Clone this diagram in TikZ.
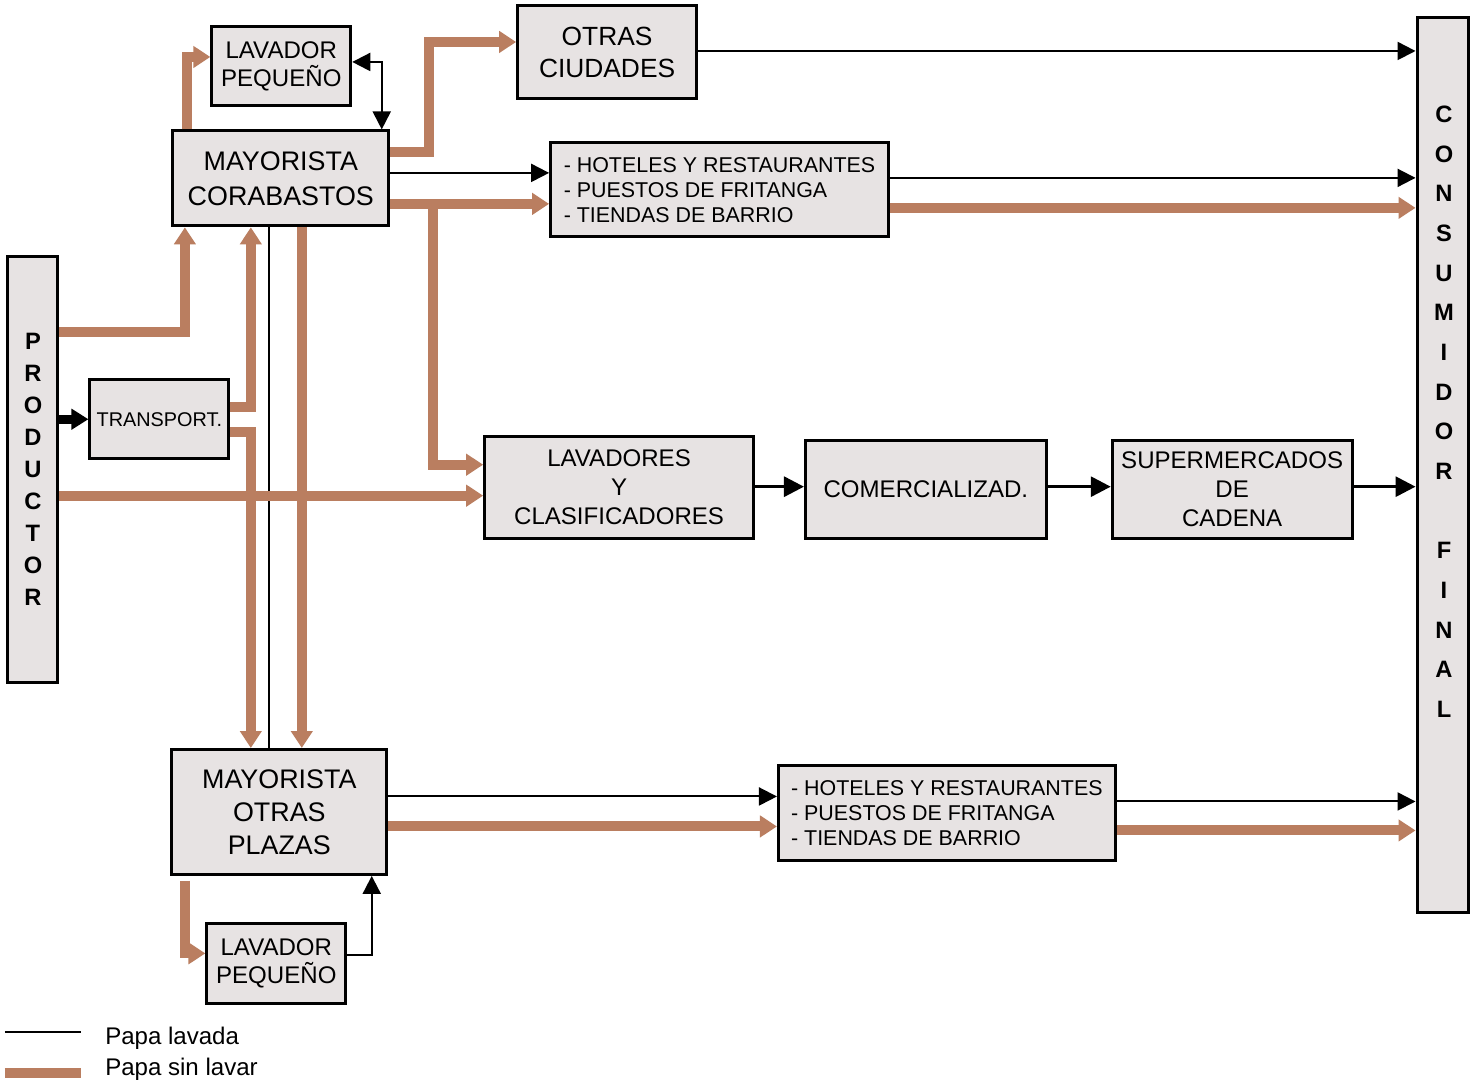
\documentclass[tikz,border=0pt]{standalone}
\usepackage{fontspec}
\setmainfont{Liberation Sans}
\usetikzlibrary{arrows.meta}

\definecolor{papabrown}{RGB}{186,126,96}
\definecolor{boxgray}{RGB}{231,227,227}

\tikzset{
  stage/.style={draw, line width=0.6mm, fill=boxgray, align=center, inner sep=0pt},
  washed/.style={line width=0.4mm, -{Triangle[width=3.6mm,length=3.6mm]}},
  unwashed/.style={papabrown, line width=2mm, -{Triangle[width=4.2mm,length=3.4mm]}},
  chain/.style={line width=0.6mm, -{Triangle[width=4mm,length=4mm]}},
}

\begin{document}
\begin{tikzpicture}[x=0.2mm, y=-0.2mm]
        \path[fill=white] (0,0) rectangle (1481,1078);

        % producer and consumer columns
        \node (prod) at (32,470) [stage, minimum width=10mm, minimum height=85.2mm, font=\bfseries\fontsize{13.5}{18.2}\selectfont] {P\\R\\O\\D\\U\\C\\T\\O\\R};
        \node (cons) at (1442.5,465.5) [stage, minimum width=10.2mm, minimum height=179mm] {};
        \node (consTxt) at (1444,412) [align=center, font=\bfseries\fontsize{13.5}{22.6}\selectfont] {C\\O\\N\\S\\U\\M\\I\\D\\O\\R\\\mbox{}\\F\\I\\N\\A\\L};

        % boxes
        \node (transp) at (158.5,419.5) [stage, minimum width=27.8mm, minimum height=15.8mm, font=\fontsize{11.3}{13}\selectfont] {TRANSPORT.};
        \node (lavtop) at (280.5,66.5) [stage, minimum width=27.8mm, minimum height=15.8mm, font=\fontsize{13.7}{15.9}\selectfont] {LAVADOR\\PEQUEÑO};
        \node (corab) at (280,178.5) [stage, minimum width=43.2mm, minimum height=19mm, font=\fontsize{15.3}{19.9}\selectfont] {MAYORISTA\\CORABASTOS};
        \node (otras) at (606.5,52.5) [stage, minimum width=35.8mm, minimum height=18.6mm, font=\fontsize{15}{18.2}\selectfont] {OTRAS\\CIUDADES};
        \node (hottop) at (719,190) [stage, align=left, minimum width=67.6mm, minimum height=18.8mm, font=\fontsize{12.2}{14.2}\selectfont] {- HOTELES Y RESTAURANTES\\- PUESTOS DE FRITANGA\\- TIENDAS DE BARRIO};
        \node (lavcl) at (618.5,488) [stage, minimum width=53.8mm, minimum height=20.4mm, font=\fontsize{13.7}{16.5}\selectfont] {LAVADORES\\Y\\CLASIFICADORES};
        \node (comer) at (925.5,490) [stage, minimum width=48.2mm, minimum height=19.6mm, font=\fontsize{13.7}{16.5}\selectfont] {COMERCIALIZAD.};
        \node (super) at (1232,490) [stage, minimum width=48mm, minimum height=19.6mm, font=\fontsize{13.7}{16.5}\selectfont] {SUPERMERCADOS\\DE\\CADENA};
        \node (plazas) at (278.5,812.5) [stage, minimum width=43mm, minimum height=25mm, font=\fontsize{15.3}{18.8}\selectfont] {MAYORISTA\\OTRAS\\PLAZAS};
        \node (lavbot) at (275.5,964) [stage, minimum width=27.8mm, minimum height=16mm, font=\fontsize{13.7}{15.9}\selectfont] {LAVADOR\\PEQUEÑO};
        \node (hotbot) at (946.5,813.5) [stage, align=left, minimum width=67.4mm, minimum height=19mm, font=\fontsize{12.2}{14.2}\selectfont] {- HOTELES Y RESTAURANTES\\- PUESTOS DE FRITANGA\\- TIENDAS DE BARRIO};

        % producer side
        \draw [unwashed] (prod.east |- 0,332) -| (corab.south -| 184,0);
        \draw [line width=1.8mm, -{Triangle[width=4mm,length=3.4mm]}] (prod.east |- transp.west) -- (transp.west);
        \draw [unwashed] (transp.east |- 0,407) -| (corab.south -| 250,0);
        \draw [unwashed] (transp.east |- 0,432) -| (plazas.north -| 250,0);
        \draw [line width=0.4mm] (corab.south -| 268,0) -- (plazas.north -| 268,0);
        \draw [unwashed] (corab.south -| 301,0) -- (plazas.north -| 301,0);
        \draw [unwashed] (prod.east |- 0,496) -- (lavcl.west |- 0,496);

        % from corabastos
        \coordinate (split) at (432,204);
        \draw [unwashed] (corab.north -| 186,0) |- (lavtop.west |- 0,57);
        \draw [washed, {Triangle[width=3.6mm,length=3.6mm]}-{Triangle[width=3.6mm,length=3.6mm]}] (lavtop.east |- 0,62) -| (corab.north -| 381,0);
        \draw [unwashed] (corab.east |- 0,152) -- (428,152) |- (otras.west |- 0,42);
        \draw [washed] (corab.east |- 0,173) -- (hottop.west |- 0,173);
        \draw [unwashed] (corab.east |- split) -- (hottop.west |- split);
        \draw [unwashed] (split) |- (lavcl.west |- 0,465);

        % to consumer
        \draw [washed] (otras.east |- 0,51) -- (cons.west |- 0,51);
        \draw [washed] (hottop.east |- 0,178) -- (cons.west |- 0,178);
        \draw [unwashed] (hottop.east |- 0,208) -- (cons.west |- 0,208);
        \draw [chain] (lavcl.east |- 0,487) -- (comer.west |- 0,487);
        \draw [chain] (comer.east |- 0,487) -- (super.west |- 0,487);
        \draw [chain] (super.east |- 0,487) -- (cons.west |- 0,487);

        % otras plazas
        \draw [washed] (plazas.east |- 0,797) -- (hotbot.west |- 0,797);
        \draw [unwashed] (plazas.east |- 0,827) -- (hotbot.west |- 0,827);
        \draw [washed] (hotbot.east |- 0,802) -- (cons.west |- 0,802);
        \draw [unwashed] (hotbot.east |- 0,831) -- (cons.west |- 0,831);
        \draw [unwashed] ([yshift=-1mm]plazas.south -| 184,0) |- (lavbot.west |- 0,954);
        \draw [washed] (lavbot.east |- 0,956) -| (plazas.south -| 371,0);

        % legend
        \node (lavadaTxt) at (104,1045) [anchor=base west, inner sep=0pt, font=\fontsize{13.7}{16}\selectfont] {Papa lavada};
        \node (sinlavarTxt) at (104,1076) [anchor=base west, inner sep=0pt, font=\fontsize{13.7}{16}\selectfont] {Papa sin lavar};
        \coordinate (legA) at (4,1033);
        \coordinate (legB) at (4,1074);
        \draw [line width=0.4mm] (legA) -- ++(76,0);
        \draw [papabrown, line width=2mm] (legB) -- ++(76,0);
    \end{tikzpicture}
\end{document}
